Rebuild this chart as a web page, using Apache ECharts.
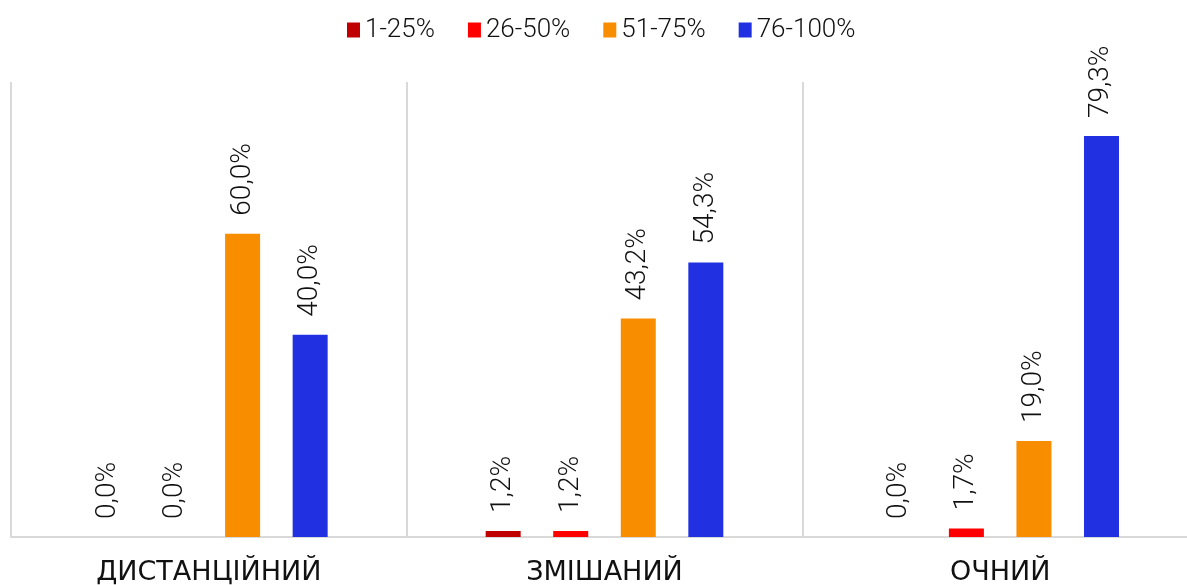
<!DOCTYPE html>
<html>
<head>
<meta charset="utf-8">
<style>
html,body{margin:0;padding:0;background:#fff;}
#chart{width:1187px;height:585px;}
</style>
<script src="https://cdn.jsdelivr.net/npm/echarts@6/dist/echarts.min.js"></script>
</head>
<body>
<div id="chart"></div>
<script>
const categories = ['ДИСТАНЦІЙНИЙ', 'ЗМІШАНИЙ', 'ОЧНИЙ'];
const seriesNames = ['1-25%', '26-50%', '51-75%', '76-100%'];
const s1_25 = [0.0, 1.2, 0.0];
const s26_50 = [0.0, 1.2, 1.7];
const s51_75 = [60.0, 43.2, 19.0];
const s76_100 = [40.0, 54.3, 79.3];
const colors = ['#C00000', '#FF0000', '#F98D00', '#2130E0'];

const allData = [s1_25, s26_50, s51_75, s76_100];
const font = 'Roboto, "DejaVu Sans", sans-serif';

const chart = echarts.init(document.getElementById('chart'));
chart.setOption({
  animation: false,
  legend: {
    top: 12,
    left: 342,
    itemWidth: 13,
    itemHeight: 15,
    itemGap: 33,
    icon: 'rect',
    textStyle: { fontFamily: font, fontSize: 26, fontWeight: 300, color: '#111' },
    data: seriesNames
  },
  grid: { left: 11, right: -11, top: 82, bottom: 48, containLabel: false, outerBoundsMode: 'none' },
  xAxis: {
    type: 'category',
    data: categories,
    axisLine: { show: true, lineStyle: { color: '#d9d9d9', width: 2 } },
    axisTick: { show: false },
    splitLine: { show: true, lineStyle: { color: '#d9d9d9', width: 2 } },
    axisLabel: { margin: 22, fontFamily: '"DejaVu Sans", sans-serif', fontSize: 27, fontWeight: 'normal', color: '#111' }
  },
  yAxis: {
    type: 'value', min: 0, max: 90,
    show: false,
    splitLine: { show: false }
  },
  series: allData.map((d, i) => ({
    name: seriesNames[i],
    type: 'bar',
    data: d,
    barWidth: 35,
    barGap: '93%',
    itemStyle: { color: colors[i] },
    label: {
      show: true,
      position: 'top',
      rotate: 90,
      align: 'left',
      verticalAlign: 'middle',
      distance: 18,
      fontFamily: font,
      fontSize: 28,
      fontWeight: 300,
      color: '#111',
      formatter: p => p.value.toFixed(1).replace('.', ',') + '%'
    }
  }))
});
</script>
</body>
</html>
